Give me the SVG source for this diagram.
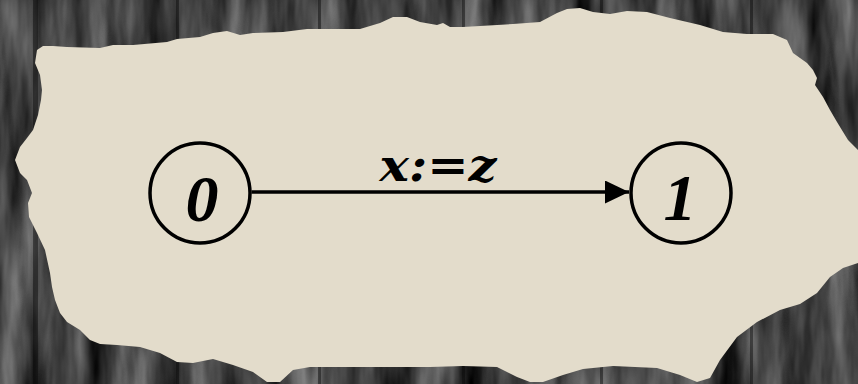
<svg xmlns="http://www.w3.org/2000/svg" width="858" height="384" viewBox="0 0 858 384">
  <defs>
    <filter id="grain" x="0" y="0" width="858" height="384" filterUnits="userSpaceOnUse" color-interpolation-filters="sRGB">
      <feTurbulence type="fractalNoise" baseFrequency="0.035 0.006" numOctaves="4" seed="7" result="n"/>
      <feColorMatrix in="n" type="matrix" values="0.75 0 0 0 -0.12  0.75 0 0 0 -0.12  0.75 0 0 0 -0.12  0 0 0 0 1"/>
    </filter>
    <marker id="arrow" viewBox="0 0 24 23" refX="24" refY="11.5" markerWidth="24" markerHeight="23" markerUnits="userSpaceOnUse" orient="auto">
      <path d="M0,0 L24,11.5 L0,23 Z" fill="#000"/>
    </marker>
    <style>
      .node circle { fill: none; stroke: #000; stroke-width: 3.5; }
      .lbl { font-family: "Liberation Serif", "DejaVu Serif", serif; font-weight: bold; font-style: italic; fill: #000; }
      .elbl { font-family: "DejaVu Serif", "Liberation Serif", serif; font-weight: bold; font-style: italic; fill: #000; }
      .seam { fill: #080808; opacity: 0.45; }
    </style>
  </defs>

  <g id="background">
    <rect x="0" y="0" width="858" height="384" fill="#333"/>
    <rect x="0" y="0" width="858" height="384" filter="url(#grain)"/>
    <rect class="seam" x="33" y="0" width="5" height="384"/>
    <rect class="seam" x="176" y="0" width="3" height="384"/>
    <rect class="seam" x="318" y="0" width="3" height="384"/>
    <rect class="seam" x="462" y="0" width="3" height="384"/>
    <rect class="seam" x="600" y="0" width="3" height="384"/>
    <rect class="seam" x="750" y="0" width="3" height="384"/>
  </g>

  <path id="paper" fill="#e3dccb" d="M43,46 L53,46 L67,47 L100,48 L113,45 L133,45 L167,42 L177,39 L200,37 L213,33 L227,31 L240,35 L253,33 L283,32 L307,29 L360,29 L380,23 L393,17 L407,17 L420,22 L437,25 L443,23 L450,27 L463,27 L480,26 L513,24 L540,22 L557,13 L567,9 L580,8 L593,12 L610,14 L627,11 L647,12 L670,18 L700,25 L723,32 L747,34 L773,34 L787,40 L793,53 L807,63 L813,70 L817,78 L815,85 L823,97 L830,110 L837,122 L848,140 L858,150 L860,150 L860,263 L858,263 L843,268 L830,277 L817,293 L800,304 L780,310 L757,322 L737,337 L720,360 L710,378 L697,382 L680,375 L657,368 L613,366 L583,369 L563,375 L543,382 L530,382 L517,377 L497,367 L463,366 L430,367 L383,367 L350,367 L310,367 L293,370 L280,382 L267,382 L253,372 L233,365 L213,359 L193,363 L177,362 L160,353 L140,347 L117,345 L100,344 L90,340 L80,330 L67,322 L60,313 L55,300 L52,287 L50,273 L45,250 L37,233 L29,217 L28,203 L32,193 L27,180 L20,173 L15,160 L20,147 L27,138 L33,130 L38,115 L41,100 L42,90 L40,75 L35,63 L37,50 Z"/>

  <g id="connectors">
    <line x1="251.5" y1="192" x2="629" y2="192" stroke="#000" stroke-width="3.5" marker-end="url(#arrow)"/>
    <text class="elbl" x="438" y="181" font-size="44" text-anchor="middle" textLength="117" lengthAdjust="spacingAndGlyphs">x:=z</text>
  </g>

  <g id="node-0" class="node">
    <circle cx="200" cy="193" r="50"/>
    <text class="lbl" x="202" y="221" font-size="66" text-anchor="middle">0</text>
  </g>

  <g id="node-1" class="node">
    <circle cx="681" cy="193" r="50"/>
    <text class="lbl" x="680" y="220" font-size="66" text-anchor="middle">1</text>
  </g>
</svg>
